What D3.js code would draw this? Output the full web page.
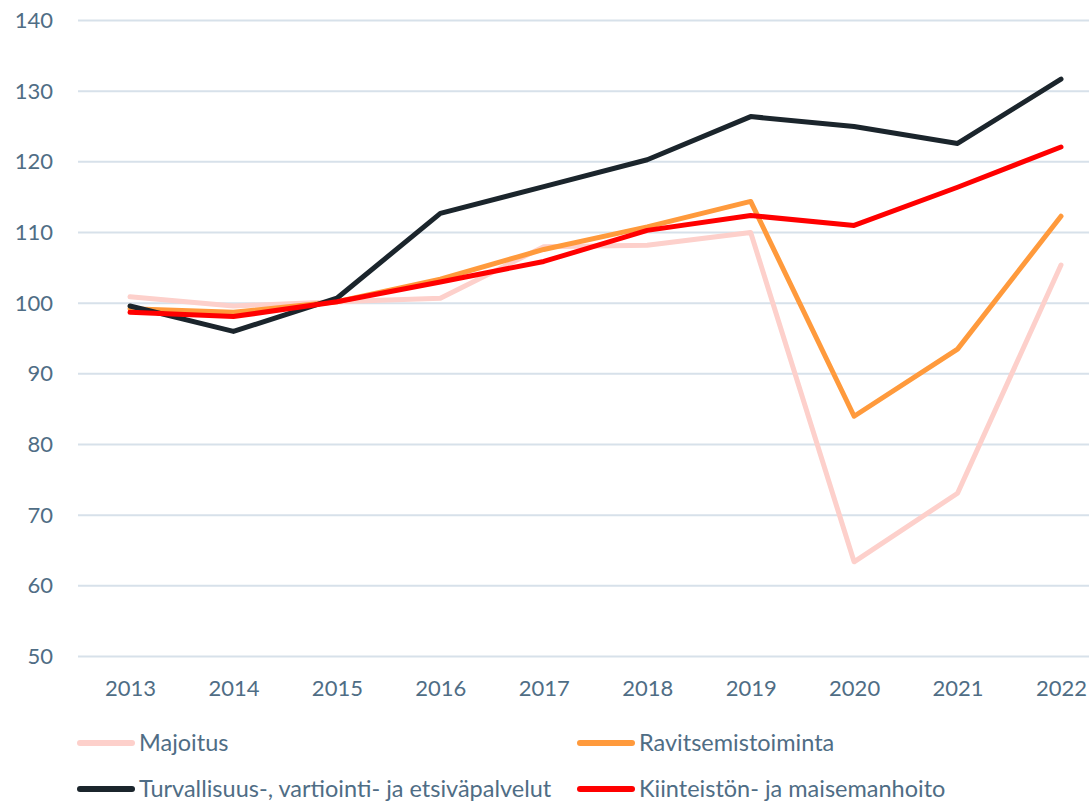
<!DOCTYPE html>
<html>
<head>
<meta charset="utf-8">
<script src="https://cdn.jsdelivr.net/npm/d3@7"></script>
<style>
  body { margin: 0; background: #fff; }
  svg text { font-family: Lato, "Open Sans", sans-serif; fill: #4f6d85; }
</style>
</head>
<body>
<svg id="chart" width="1089" height="801"></svg>
<script>
// years on the x axis
const years = ["2013", "2014", "2015", "2016", "2017", "2018", "2019", "2020", "2021", "2022"];
const yTicks = [50, 60, 70, 80, 90, 100, 110, 120, 130, 140];

// series values (index)
const majoitus = [100.9, 99.6, 100.2, 100.7, 108.0, 108.2, 110.0, 63.4, 73.1, 105.4];
const ravitsemis = [99.2, 98.7, 100.2, 103.4, 107.6, 110.8, 114.4, 84.0, 93.5, 112.3];
const turvallisuus = [99.6, 96.0, 100.7, 112.7, 116.5, 120.3, 126.4, 125.0, 122.6, 131.7];
const kiinteisto = [98.7, 98.1, 100.2, 103.0, 105.9, 110.3, 112.4, 111.0, 116.4, 122.1];

const series = [
  { name: "Majoitus", values: majoitus, color: "#fdd0cb" },
  { name: "Ravitsemistoiminta", values: ravitsemis, color: "#ff9a3c" },
  { name: "Turvallisuus-, vartiointi- ja etsiväpalvelut", values: turvallisuus, color: "#1b252c" },
  { name: "Kiinteistön- ja maisemanhoito", values: kiinteisto, color: "#ff0000" }
];

const svg = d3.select("#chart");

const x = d3.scalePoint()
  .domain(years)
  .range([130, 1061]);

const y = d3.scaleLinear()
  .domain([50, 140])
  .range([656.5, 20.5]);

// gridlines
svg.append("g")
  .selectAll("line")
  .data(yTicks)
  .enter()
  .append("line")
  .attr("x1", 78)
  .attr("x2", 1089)
  .attr("y1", d => y(d))
  .attr("y2", d => y(d))
  .attr("stroke", "#d7e1ea")
  .attr("stroke-width", 2);

// y axis labels
const yAxis = svg.append("g")
  .attr("transform", "translate(53,0)")
  .call(d3.axisLeft(y).tickValues(yTicks).tickSize(0).tickPadding(0));
yAxis.select(".domain").remove();
yAxis.selectAll("text")
  .style("font-size", "22px")
  .attr("fill", "#4f6d85");

// x axis labels
const xAxis = svg.append("g")
  .attr("transform", "translate(0,680)")
  .call(d3.axisBottom(x).tickSize(0).tickPadding(0));
xAxis.select(".domain").remove();
xAxis.selectAll("text")
  .style("font-size", "22px")
  .attr("fill", "#4f6d85");

const line = d3.line()
  .x((d, i) => x(years[i]))
  .y(d => y(d));

svg.append("g")
  .selectAll("path")
  .data(series)
  .enter()
  .append("path")
  .attr("d", d => line(d.values))
  .attr("fill", "none")
  .attr("stroke", d => d.color)
  .attr("stroke-width", 5)
  .attr("stroke-linejoin", "round")
  .attr("stroke-linecap", "round");

// legend, 2 columns
const legend = svg.append("g")
  .selectAll("g")
  .data(series)
  .enter()
  .append("g")
  .attr("transform", (d, i) => "translate(" + (i % 2 === 0 ? 80 : 580) + "," + (i < 2 ? 743 : 789) + ")");

legend.append("line")
  .attr("x1", 0)
  .attr("x2", 52)
  .attr("stroke", d => d.color)
  .attr("stroke-width", 6)
  .attr("stroke-linecap", "round");

legend.append("text")
  .attr("x", 59)
  .attr("dy", "0.35em")
  .style("font-size", "23.5px")
  .text(d => d.name);
</script>
</body>
</html>
